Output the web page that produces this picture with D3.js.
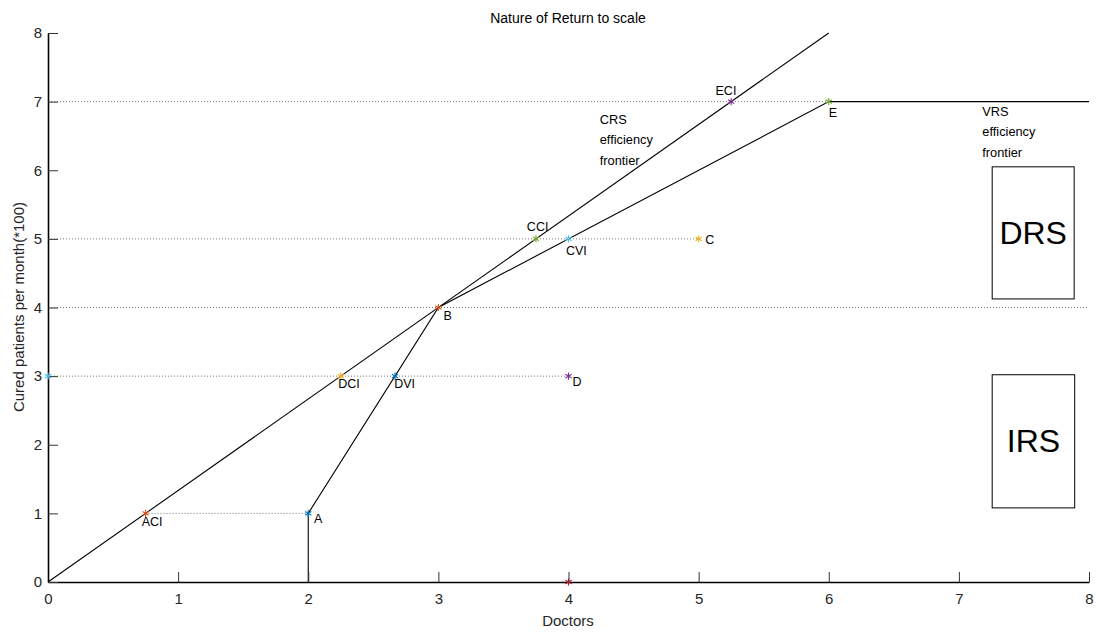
<!DOCTYPE html>
<html><head><meta charset="utf-8">
<script src="https://cdn.jsdelivr.net/npm/d3@7"></script>
<style>body{margin:0;background:#fff;} text{font-family:"Liberation Sans",Arial,sans-serif;}</style>
</head><body><svg id="chart" width="1096" height="633"></svg>
<script>
// ---- data ----
const xTicks = [0,1,2,3,4,5,6,7,8];
const yTicks = [0,1,2,3,4,5,6,7,8];
const crsLine = [[0,0],[6,8]];
const vrsLine = [[2,0],[2,1],[3,4],[6,7],[8,7]];
const dottedLines = [
  [[0,7],[6,7]],
  [[0,5],[5,5]],
  [[0,4],[8,4]],
  [[0,3],[4,3]],
  [[0.75,1],[2,1]]
];
const pointX = [0.75, 2, 2.25, 2.667, 4, 3, 3.75, 4, 5, 5.25, 6, 0, 4];
const pointY = [1, 1, 3, 3, 3, 4, 5, 5, 5, 7, 7, 3, 0];
const pointColors = ["#D95319","#0072BD","#EDB120","#0072BD","#7E2F8E","#D95319","#77AC30","#4DBEEE","#EDB120","#7E2F8E","#77AC30","#4DBEEE","#A2142F"];
const labelText = ["ACI","A","B","DCI","DVI","D","CCI","CVI","C","ECI","E"];
const labelX = [0.72, 2.045, 3.04, 2.23, 2.66, 4.03, 3.68, 3.98, 5.05, 5.13, 6.0];
const labelY = [0.87, 0.91, 3.87, 2.87, 2.87, 2.91, 5.16, 4.82, 4.98, 7.15, 6.82];
const noteText = [["CRS","efficiency","frontier"],["VRS","efficiency","frontier"]];
const noteX = [4.24, 7.18];
const noteY = [6.43, 6.55];
const boxText = ["DRS","IRS"];
const boxX0 = [7.256, 7.256];
const boxX1 = [7.886, 7.89];
const boxY0 = [4.125, 1.08];
const boxY1 = [6.05, 3.02];

// ---- layout ----
const svg = d3.select("#chart");
const m = {l:48, r:1089, t:33, b:582};
const x = d3.scaleLinear().domain([0,8]).range([m.l, m.r]);
const y = d3.scaleLinear().domain([0,8]).range([m.b, m.t]);
const line = d3.line().x(d=>x(d[0])).y(d=>y(d[1]));

// dotted guide lines
svg.append("g").selectAll("path").data(dottedLines).join("path")
  .attr("d", line).attr("fill","none").attr("stroke","#666")
  .attr("stroke-width",0.9).attr("stroke-dasharray","1,2");

// frontier lines
svg.append("path").attr("d", line(crsLine)).attr("fill","none").attr("stroke","#000").attr("stroke-width",1.1);
svg.append("path").attr("d", line(vrsLine)).attr("fill","none").attr("stroke","#000").attr("stroke-width",1.1);

// axes
const ax = svg.append("g").attr("transform",`translate(0,${m.b})`)
  .call(d3.axisBottom(x).tickValues(xTicks).tickSizeInner(-10).tickSizeOuter(0).tickPadding(11).tickFormat(d3.format("d")));
const ay = svg.append("g").attr("transform",`translate(${m.l},0)`)
  .call(d3.axisLeft(y).tickValues(yTicks).tickSizeInner(-10).tickSizeOuter(0).tickPadding(6).tickFormat(d3.format("d")));
[ax, ay].forEach(g => {
  g.select(".domain").attr("stroke","#000").attr("stroke-width",1.6);
  g.selectAll(".tick line").attr("stroke","#333").attr("stroke-width",1);
  g.selectAll(".tick text").attr("fill","#262626").style("font-size","15px").style("font-family","'Liberation Sans',Arial,sans-serif");
});

// markers
const sym = d3.symbol().type(d3.symbolAsterisk).size(36);
svg.append("g").selectAll("path").data(pointX.map((v,i)=>i)).join("path")
  .attr("transform", i=>`translate(${x(pointX[i])},${y(pointY[i])})`)
  .attr("d", sym).attr("fill","none").attr("stroke", i=>pointColors[i]).attr("stroke-width",1.1);

// point labels
svg.append("g").selectAll("text").data(labelText).join("text")
  .attr("x",(d,i)=>x(labelX[i])).attr("y",(d,i)=>y(labelY[i]))
  .attr("dominant-baseline","middle").style("font-size","12.5px").attr("fill","#000").text(d=>d);

// notes
noteText.forEach((lines,i)=>{
  const t = svg.append("text").attr("x",x(noteX[i])).attr("y",y(noteY[i]) - 20)
    .attr("dominant-baseline","middle").style("font-size","12.8px");
  lines.forEach((s,j)=>t.append("tspan").attr("x",x(noteX[i])).attr("dy", j===0?0:20.5).text(s));
});

// boxes
boxText.forEach((s,i)=>{
  svg.append("rect").attr("x",x(boxX0[i])).attr("y",y(boxY1[i]))
    .attr("width",x(boxX1[i])-x(boxX0[i])).attr("height",y(boxY0[i])-y(boxY1[i]))
    .attr("fill","none").attr("stroke","#000").attr("stroke-width",1);
  svg.append("text").attr("x",(x(boxX0[i])+x(boxX1[i]))/2).attr("y",(y(boxY0[i])+y(boxY1[i]))/2)
    .attr("text-anchor","middle").attr("dominant-baseline","central").style("font-size","32px").text(s);
});

// title and axis labels
svg.append("text").attr("x",568).attr("y",23).attr("text-anchor","middle").style("font-size","14px").text("Nature of Return to scale");
svg.append("text").attr("x",568).attr("y",626).attr("text-anchor","middle").attr("fill","#262626").style("font-size","15px").text("Doctors");
svg.append("text").attr("transform","translate(24,307) rotate(-90)").attr("text-anchor","middle").attr("fill","#262626").style("font-size","15px").text("Cured patients per month(*100)");
</script></body></html>
